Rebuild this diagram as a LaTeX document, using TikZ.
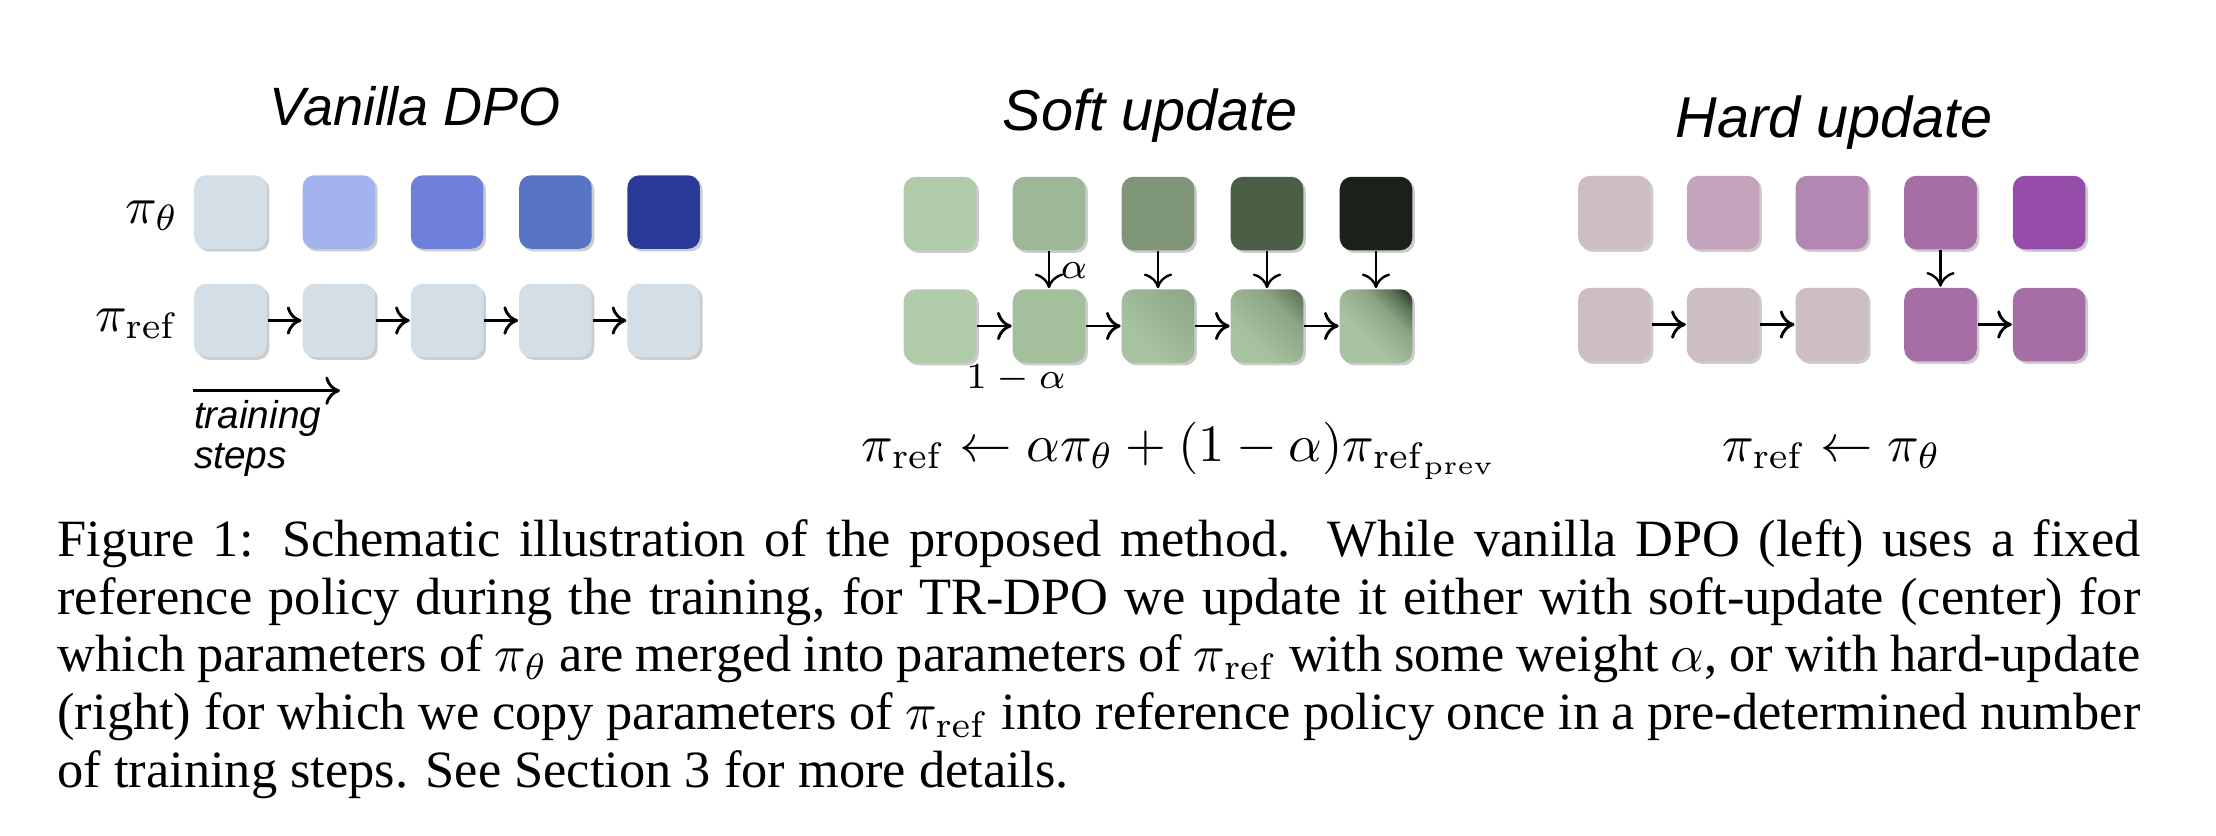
\documentclass[tikz,border=0pt]{standalone}
\usepackage[no-math]{fontspec}
\usetikzlibrary{arrows.meta,shadows}
\newfontfamily\capfont{Liberation Serif}
\newfontfamily\titlefont{Liberation Sans}
% vanilla
\definecolor{va}{HTML}{D3DEE6}
\definecolor{vb}{HTML}{A2B3EE}
\definecolor{vc}{HTML}{6F80DB}
\definecolor{vd}{HTML}{5874C4}
\definecolor{ve}{HTML}{2B3A98}
% soft
\definecolor{sa}{HTML}{AFCBA9}
\definecolor{sb}{HTML}{9DB797}
\definecolor{sc}{HTML}{7E9577}
\definecolor{sd}{HTML}{4B5E46}
\definecolor{se}{HTML}{19211A}
\definecolor{rb}{HTML}{A3BF9C}
\definecolor{rl}{HTML}{A7C2A0}
\definecolor{rm}{HTML}{8CA585}
\definecolor{rk}{HTML}{586E52}
\definecolor{rx}{HTML}{1B2519}
% hard
\definecolor{ha}{HTML}{CCBEC2}
\definecolor{hb}{HTML}{C4A4BD}
\definecolor{hc}{HTML}{B287B1}
\definecolor{hd}{HTML}{A56FA5}
\definecolor{he}{HTML}{954DA9}
\pgfdeclarehorizontalshading{gthree}{100bp}{color(0bp)=(rl); color(35bp)=(rl); color(85bp)=(rm); color(100bp)=(rm)}
\pgfdeclarehorizontalshading{gfour}{100bp}{color(0bp)=(rl); color(35bp)=(rl); color(65bp)=(rm); color(85bp)=(rk); color(100bp)=(rk)}
\pgfdeclarehorizontalshading{gfive}{100bp}{color(0bp)=(rl); color(40bp)=(rl); color(62bp)=(rm); color(75bp)=(rk); color(85bp)=(rx); color(100bp)=(rx)}
\tikzset{
  blk/.style={rounded corners=2.3pt, minimum width=13.84pt, minimum height=14.03pt,
    inner sep=0pt, draw=none,
    drop shadow={shadow xshift=0.5pt, shadow yshift=-0.5pt, opacity=0.2, fill=black}},
  arr/.style={line width=0.55pt, -{To[length=2.8pt,width=5.4pt]}},
  varr/.style={line width=0.45pt, -{To[length=2.8pt,width=5.4pt]}},
  ttl/.style={font=\titlefont\itshape\fontsize{11}{13}\selectfont, anchor=base, inner sep=0pt},
  mth/.style={font=\fontsize{10}{12}\selectfont, inner sep=0pt},
  smth/.style={font=\fontsize{7}{8}\selectfont, inner sep=0pt},
  captxt/.style={font=\capfont\fontsize{10}{11}\selectfont, anchor=base west, inner sep=0pt},
}
\begin{document}
\begin{tikzpicture}[x=0.19084pt, y=-0.19084pt]
\useasboundingbox (0,0) rectangle (2216,835);
% ---------- Vanilla DPO ----------
\node[ttl, font=\titlefont\itshape\fontsize{10.3}{12}\selectfont] (tv) at (415,125) {Vanilla DPO};
\node[mth, anchor=base east] (lth) at (180,223) {$\pi_\theta$};
\node[mth, anchor=base east] (lref) at (180,331) {$\pi_{\mathrm{ref}}$};
\node[blk, fill=va] (v1) at (230.5,212) {};
\node[blk, fill=vb] (v2) at (338.8,212) {};
\node[blk, fill=vc] (v3) at (447.1,212) {};
\node[blk, fill=vd] (v4) at (555.4,212) {};
\node[blk, fill=ve] (v5) at (663.7,212) {};
\node[blk, fill=va] (w1) at (230.5,320.5) {};
\node[blk, fill=va] (w2) at (338.8,320.5) {};
\node[blk, fill=va] (w3) at (447.1,320.5) {};
\node[blk, fill=va] (w4) at (555.4,320.5) {};
\node[blk, fill=va] (w5) at (663.7,320.5) {};
\draw[arr] (w1.east) -- (w2.west);
\draw[arr] (w2.east) -- (w3.west);
\draw[arr] (w3.east) -- (w4.west);
\draw[arr] (w4.east) -- (w5.west);
\coordinate (ts0) at (193.3,390.7);
\coordinate (ts1) at (340,390.7);
\draw[arr] (ts0) -- (ts1);
\node[anchor=base west, inner sep=0pt, font=\titlefont\itshape\fontsize{7.4}{8}\selectfont] (tr1) at (193,428) {training};
\node[anchor=base west, inner sep=0pt, font=\titlefont\itshape\fontsize{7.4}{8}\selectfont] (tr2) at (193,468) {steps};
% ---------- Soft update ----------
\node[ttl] (tso) at (1150,130) {Soft update};
\node[blk, fill=sa] (s1) at (940,213.5) {};
\node[blk, fill=sb] (s2) at (1049,213.5) {};
\node[blk, fill=sc] (s3) at (1158,213.5) {};
\node[blk, fill=sd] (s4) at (1267,213.5) {};
\node[blk, fill=se] (s5) at (1376,213.5) {};
\node[blk, fill=sa] (r1) at (940,326) {};
\node[blk, fill=rb] (r2) at (1049,326) {};
\node[blk, shading=gthree, shading angle=45] (r3) at (1158,326) {};
\node[blk, shading=gfour, shading angle=45] (r4) at (1267,326) {};
\node[blk, shading=gfive, shading angle=45] (r5) at (1376,326) {};
\draw[varr] (s2.south) -- (r2.north);
\draw[varr] (s3.south) -- (r3.north);
\draw[varr] (s4.south) -- (r4.north);
\draw[varr] (s5.south) -- (r5.north);
\draw[arr] (r1.east) -- (r2.west);
\draw[arr] (r2.east) -- (r3.west);
\draw[arr] (r3.east) -- (r4.west);
\draw[arr] (r4.east) -- (r5.west);
\node[smth] (alab) at (1074,271) {$\alpha$};
\node[smth, anchor=base] (blab) at (1016,388) {$1-\alpha$};
\node[mth, anchor=base] (fsoft) at (1180,461) {$\pi_{\mathrm{ref}} \leftarrow \alpha\pi_\theta + (1-\alpha)\pi_{\mathrm{ref}_{\mathrm{prev}}}$};
% ---------- Hard update ----------
\node[ttl] (tha) at (1834.5,137) {Hard update};
\node[blk, fill=ha] (h1) at (1614.4,212.5) {};
\node[blk, fill=hb] (h2) at (1723.1,212.5) {};
\node[blk, fill=hc] (h3) at (1831.8,212.5) {};
\node[blk, fill=hd] (h4) at (1940.5,212.5) {};
\node[blk, fill=he] (h5) at (2049.2,212.5) {};
\node[blk, fill=ha] (k1) at (1614.4,324.5) {};
\node[blk, fill=ha] (k2) at (1723.1,324.5) {};
\node[blk, fill=ha] (k3) at (1831.8,324.5) {};
\node[blk, fill=hd] (k4) at (1940.5,324.5) {};
\node[blk, fill=hd] (k5) at (2049.2,324.5) {};
\draw[varr] (h4.south) -- (k4.north);
\draw[arr] (k1.east) -- (k2.west);
\draw[arr] (k2.east) -- (k3.west);
\draw[arr] (k4.east) -- (k5.west);
\node[mth, anchor=base] (fhard) at (1832,461) {$\pi_{\mathrm{ref}} \leftarrow \pi_\theta$};
% ---------- Caption ----------
\node[captxt] (c1) at (56.5,556.7) {\makebox[397.5pt][s]{Figure 1: Schematic illustration of the proposed method.\ \ While vanilla DPO (left) uses a fixed}};
\node[captxt] (c2) at (56.5,614.3) {\makebox[397.5pt][s]{reference policy during the training, for TR-DPO we update it either with soft-update (center) for}};
\node[captxt] (c3) at (56.5,671.9) {\makebox[397.5pt][s]{which parameters of $\pi_\theta$ are merged into parameters of $\pi_{\mathrm{ref}}$ with some weight $\alpha$, or with hard-update}};
\node[captxt] (c4) at (56.5,729.5) {\makebox[397.5pt][s]{(right) for which we copy parameters of $\pi_{\mathrm{ref}}$ into reference policy once in a pre-determined number}};
\node[captxt] (c5) at (56.5,787.1) {of training steps. See Section 3 for more details.};
\end{tikzpicture}
\end{document}
